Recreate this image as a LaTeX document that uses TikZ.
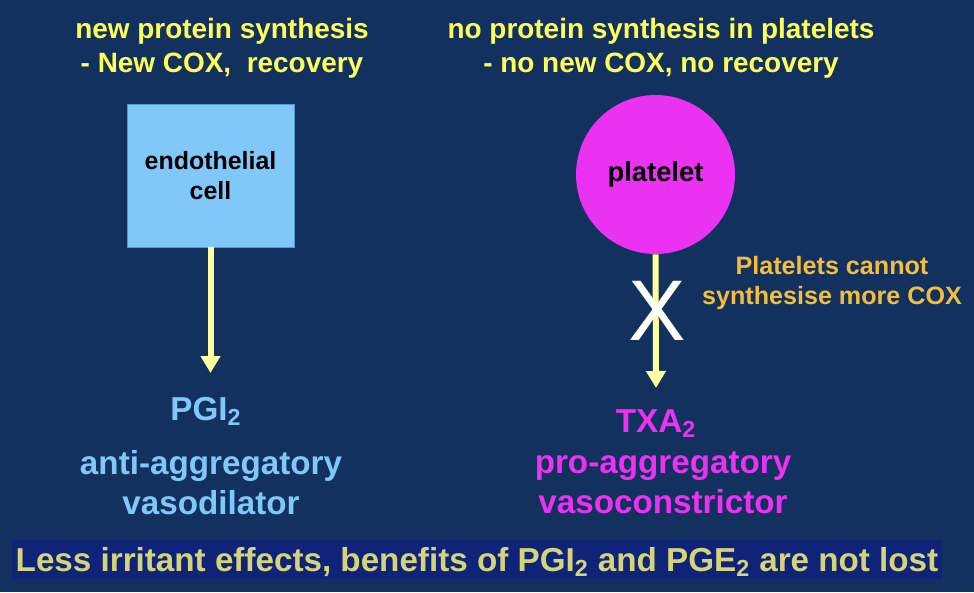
\documentclass[tikz,border=0pt]{standalone}
\usepackage{fontspec}
\setmainfont{Liberation Sans}
\usepackage{tikz}
\usetikzlibrary{
    arrows.meta,
    positioning
}
\definecolor{slidebg}{RGB}{19,49,94}
\definecolor{headyellow}{RGB}{255,255,90}
\definecolor{cellblue}{RGB}{128,200,250}
\definecolor{cellborder}{RGB}{90,150,205}
\definecolor{platemag}{RGB}{235,50,242}
\definecolor{arrowyellow}{RGB}{255,255,160}
\definecolor{noteorange}{RGB}{242,190,60}
\definecolor{summtext}{RGB}{212,212,122}
\definecolor{summband}{RGB}{15,35,120}

\begin{document}
\begin{tikzpicture}[x=0.02cm, y=-0.02cm,
    heading/.style={text=headyellow, align=center, font=\bfseries\fontsize{15.9}{19.3}\selectfont},
    celltext/.style={text=black, align=center, font=\bfseries\fontsize{14.2}{17}\selectfont},
    product/.style={align=center, font=\bfseries\fontsize{18.9}{22.7}\selectfont},
    flow/.style={arrowyellow, line width=0.12cm, -{Triangle[length=0.34cm, width=0.38cm]}}
    ]
            % Background
            \fill[slidebg] (0,0) rectangle (974,592);
            \useasboundingbox (0,0) rectangle (974,592);

            % Headings
            \node[heading] (lefthead) at (222,48) {new protein synthesis\\- New COX,\ \ recovery};
            \node[heading] (righthead) at (661,48) {no protein synthesis in platelets\\- no new COX, no recovery};

            % Cells
            \node[celltext, draw=cellborder, fill=cellblue, minimum width=3.34cm, minimum height=2.86cm]
                (endo) at (210.5,175.5) {endothelial\\cell};
            \node[celltext, circle, fill=platemag, minimum size=3.18cm, font=\bfseries\fontsize{15.6}{18}\selectfont]
                (plate) at (655.5,174.5) {platelet};

            % Products
            \node[product, text=cellblue, anchor=base] (pgi) at (206,420) {PGI\textsubscript{2}};
            \node[product, text=cellblue] (pgidesc) at (211,483) {anti-aggregatory\\vasodilator};
            \node[product, text=platemag, anchor=base] (txa) at (656,432) {TXA\textsubscript{2}};
            \node[product, text=platemag] (txadesc) at (663,483) {pro-aggregatory\\vasoconstrictor};

            % Arrows
            \coordinate (endoend) at (210.5,373);
            \coordinate (plateend) at (656,388);
            \draw[flow] (endo.south) -- (endoend);
            \draw[flow] (plate.south) -- (plateend);

            % Blocked step
            \node[text=white, font=\fontsize{49}{52}\selectfont, inner sep=0pt] (block) at (657,311) {X};
            \node[text=noteorange, align=center, font=\bfseries\fontsize{14.3}{17.6}\selectfont]
                (note) at (832,283) {Platelets cannot\\synthesise more COX};

            % Summary
            \node[fill=summband, text=summtext, minimum width=18.6cm, minimum height=0.78cm, inner sep=0pt,
                text height=0.46cm, text depth=0pt, font=\bfseries\fontsize{18.9}{22}\selectfont]
                (summary) at (477,559.5) {Less irritant effects, benefits of PGI\textsubscript{2} and PGE\textsubscript{2} are not lost};
        \end{tikzpicture}
\end{document}
